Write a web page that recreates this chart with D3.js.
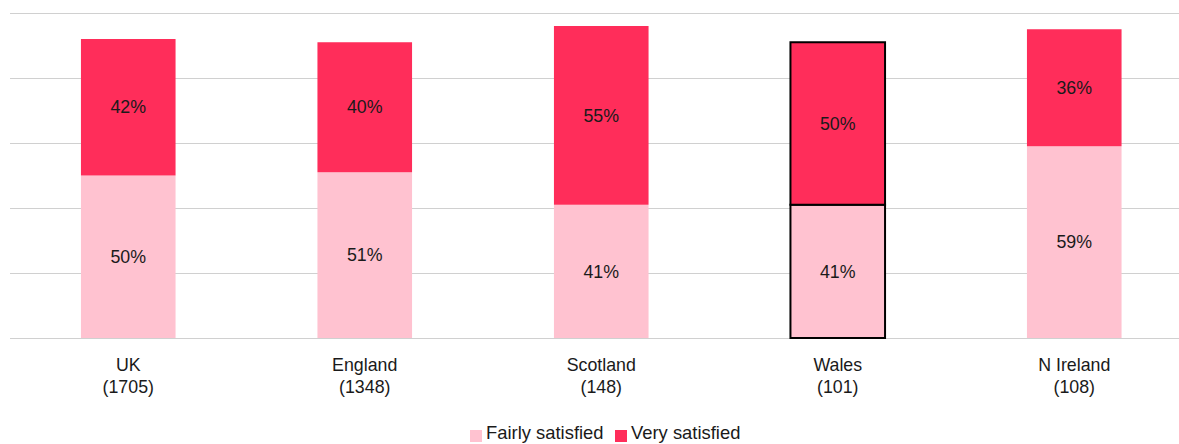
<!DOCTYPE html>
<html>
<head>
<meta charset="utf-8">
<script src="https://cdn.jsdelivr.net/npm/d3@7"></script>
<style>
  html, body { margin: 0; padding: 0; background: #fff; }
  svg { display: block; font-family: "Liberation Sans", Arial, sans-serif; }
</style>
</head>
<body>
<svg id="chart" width="1179" height="444"></svg>
<script>
// Satisfaction by nation (share of respondents, %)
const categories = ["UK", "England", "Scotland", "Wales", "N Ireland"];
const bases = ["(1705)", "(1348)", "(148)", "(101)", "(108)"];
const fairlySatisfied = [50, 51, 41, 41, 59];
const verySatisfied = [42, 40, 55, 50, 36];
const seriesNames = ["Fairly satisfied", "Very satisfied"];
const yTicks = [0, 20, 40, 60, 80, 100];
const highlighted = "Wales";

const colors = ["#FFC2D0", "#FF2D5A"];
const fontSize = 17.8;

const svg = d3.select("#chart");
const margin = { left: 10, top: 13, bottom: 338 };
const plotRight = 1192.5;

const x = d3.scaleBand().domain(categories).range([margin.left, plotRight]).paddingInner(0.6).paddingOuter(0.3);
const y = d3.scaleLinear().domain([0, 100]).range([margin.bottom, margin.top]);

// gridlines
svg.append("g")
  .selectAll("line")
  .data(yTicks)
  .join("line")
  .attr("x1", margin.left).attr("x2", 1179)
  .attr("y1", d => Math.round(y(d)) + 0.5).attr("y2", d => Math.round(y(d)) + 0.5)
  .attr("stroke", "#d0d0d0").attr("stroke-width", 1);

const rows = categories.map((c, i) => ({ cat: c, base: bases[i], vals: [fairlySatisfied[i], verySatisfied[i]] }));

const stackData = rows.map(r => {
  let acc = 0;
  return r.vals.map((v, k) => { const s = { cat: r.cat, k, v, y0: acc, y1: acc + v }; acc += v; return s; });
}).flat();

const bw = x.bandwidth();

svg.append("g")
  .selectAll("rect")
  .data(stackData)
  .join("rect")
  .attr("x", d => x(d.cat))
  .attr("width", bw)
  .attr("y", d => y(d.y1))
  .attr("height", d => y(d.y0) - y(d.y1))
  .attr("fill", d => colors[d.k])
  .attr("stroke", d => d.cat === highlighted ? "#000" : "none")
  .attr("stroke-width", 2);

// value labels
svg.append("g")
  .selectAll("text")
  .data(stackData)
  .join("text")
  .attr("x", d => x(d.cat) + bw / 2)
  .attr("y", d => y((d.y0 + d.y1) / 2))
  .attr("dy", "0.35em")
  .attr("text-anchor", "middle")
  .attr("font-size", fontSize)
  .attr("fill", "#1a1a1a")
  .text(d => d.v + "%");

// category labels
const cl = svg.append("g")
  .selectAll("text")
  .data(rows)
  .join("text")
  .attr("text-anchor", "middle")
  .attr("font-size", fontSize)
  .attr("fill", "#1a1a1a");
cl.append("tspan").attr("x", d => x(d.cat) + bw / 2).attr("y", 371).text(d => d.cat);
cl.append("tspan").attr("x", d => x(d.cat) + bw / 2).attr("y", 393).text(d => d.base);

// legend
const legend = svg.append("g").attr("transform", "translate(470,427)");
const items = [
  { name: seriesNames[0], color: colors[0], x: 0 },
  { name: seriesNames[1], color: colors[1], x: 145 }
];
const li = legend.selectAll("g").data(items).join("g").attr("transform", d => `translate(${d.x},0)`);
li.append("rect").attr("width", 12).attr("height", 12).attr("y", 3).attr("fill", d => d.color);
li.append("text").attr("x", 16).attr("y", 12).attr("font-size", 18.4).attr("fill", "#1a1a1a").text(d => d.name);
</script>
</body>
</html>
